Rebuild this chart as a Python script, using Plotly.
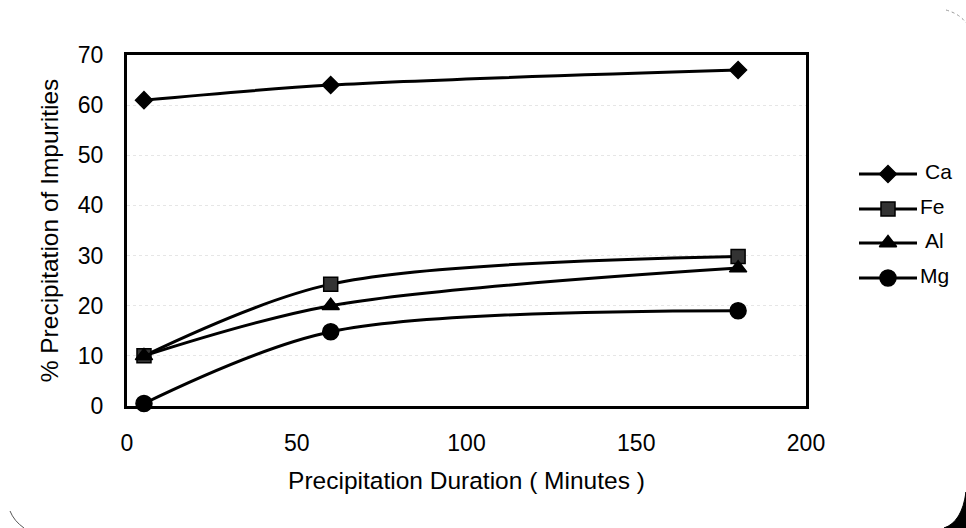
import plotly.graph_objects as go

# Precipitation duration (minutes)
duration = [5, 60, 180]

# % precipitation of each impurity
ca = [61, 64, 67]
fe = [10, 24.3, 29.8]
al = [10, 20, 27.5]
mg = [0.5, 14.8, 19]

# name, values, marker symbol, marker size, marker fill
series = [
    ("Ca", ca, "diamond", 13, "black"),
    ("Fe", fe, "square", 14, "#333333"),
    ("Al", al, "triangle-up", 15, "black"),
    ("Mg", mg, "circle", 16, "black"),
]

x_ticks = [0, 50, 100, 150, 200]
y_ticks = [0, 10, 20, 30, 40, 50, 60, 70]

FONT = "Liberation Sans, Arial, sans-serif"
W, H = 966, 528
M_L, M_R, M_T, M_B = 127, 10, 55, 122
PLOT_RIGHT = 806           # right edge of the data frame, px
PAPER_W = W - M_L - M_R
PAPER_H = H - M_T - M_B


def frac_x(px):
    return (px - M_L) / PAPER_W


def to_paper(px, py):
    return frac_x(px), 1 - (py - M_T) / PAPER_H


fig = go.Figure()

# data series
for name, values, symbol, size, fill in series:
    fig.add_trace(go.Scatter(
        x=duration, y=values, name=name, showlegend=False,
        mode="lines+markers",
        line=dict(color="black", width=3, shape="spline", smoothing=0.9),
        marker=dict(symbol=symbol, size=size, color=fill,
                    line=dict(color="black", width=1.5)),
        cliponaxis=False, xaxis="x", yaxis="y",
    ))

# key: a small hidden subplot at the right, one row per series
key_rows = [174, 209, 243, 278]
key_text_x = [925, 920, 925, 920]
for (name, values, symbol, size, fill), row, tx in zip(series, key_rows, key_text_x):
    fig.add_trace(go.Scatter(
        x=[859, 917], y=[row, row], mode="lines", showlegend=False,
        line=dict(color="black", width=3), xaxis="x2", yaxis="y2",
        hoverinfo="skip",
    ))
    fig.add_trace(go.Scatter(
        x=[888], y=[row], mode="markers", showlegend=False,
        marker=dict(symbol=symbol, size=size, color=fill,
                    line=dict(color="black", width=1.5)),
        xaxis="x2", yaxis="y2", cliponaxis=False, hoverinfo="skip",
    ))
    fig.add_trace(go.Scatter(
        x=[tx], y=[row], mode="text", text=[name], showlegend=False,
        textposition="middle right",
        textfont=dict(family=FONT, size=21, color="black"),
        xaxis="x2", yaxis="y2", cliponaxis=False, hoverinfo="skip",
    ))

axis_common = dict(
    showline=True, linecolor="black", linewidth=3, mirror=True,
    ticks="", zeroline=False, automargin=False,
    tickfont=dict(family=FONT, size=23, color="black"),
)

fig.update_layout(
    xaxis=dict(
        domain=[0, frac_x(PLOT_RIGHT)], anchor="y",
        range=[0, 200], tickvals=x_ticks, ticklabelstandoff=14,
        showgrid=False,
        title=dict(text="Precipitation Duration ( Minutes )", standoff=18,
                   font=dict(family=FONT, size=24.5, color="black")),
        **axis_common,
    ),
    yaxis=dict(
        domain=[0, 1], anchor="x",
        range=[0, 70], tickvals=y_ticks, ticklabelstandoff=16,
        showgrid=True, gridcolor="#e6e6e6", griddash="dot", gridwidth=1,
        title=dict(text="% Precipitation of Impurities\u00a0\u00a0\u00a0",
                   standoff=13,
                   font=dict(family=FONT, size=24.5, color="black")),
        **axis_common,
    ),
    xaxis2=dict(domain=[frac_x(840), 1], anchor="y2", range=[840, W - M_R],
                visible=False, fixedrange=True, automargin=False),
    yaxis2=dict(domain=[0, 1], anchor="x2", range=[H - M_B, M_T],
                visible=False, fixedrange=True, automargin=False),
    width=W, height=H,
    margin=dict(l=M_L, r=M_R, t=M_T, b=M_B, autoexpand=False),
    paper_bgcolor="white", plot_bgcolor="white",
    showlegend=False,
)


# rounded page corners
def path(points, close=False):
    d = ""
    for cmd, pts in points:
        coords = " ".join("%.5f,%.5f" % to_paper(*p) for p in pts)
        d += cmd + " " + coords + " "
    return d + ("Z" if close else "")


fig.add_shape(type="path", xref="paper", yref="paper",
              path=path([("M", [(966, 492)]), ("L", [(966, 528)]),
                         ("L", [(944, 528)]), ("Q", [(962, 522), (966, 492)])],
                        close=True),
              fillcolor="black", line=dict(color="black", width=1))
fig.add_shape(type="path", xref="paper", yref="paper",
              path=path([("M", [(10, 511)]), ("Q", [(14, 521), (24, 528)])]),
              line=dict(color="#555555", width=1))
fig.add_shape(type="path", xref="paper", yref="paper",
              path=path([("M", [(946, 10)]), ("Q", [(960, 14), (966, 23)])]),
              line=dict(color="#999999", width=1, dash="dot"))

fig.write_html("out.html")
